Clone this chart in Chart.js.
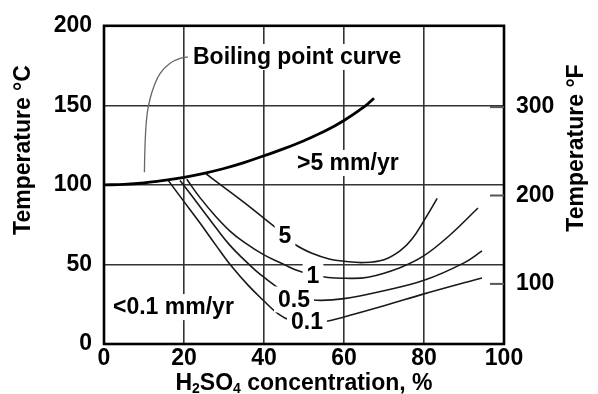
<!DOCTYPE html>
<html><head><meta charset="utf-8">
<script src="https://cdn.jsdelivr.net/npm/chart.js@4"></script>
<style>html,body{margin:0;padding:0;background:#fff}#wrap{width:598px;height:394px}</style>
</head><body><div id="wrap"><canvas id="c" width="598" height="394"></canvas></div>
<script>
// ---- tick labels ----
const concTicks = [0, 20, 40, 60, 80, 100];
const tempCTicks = [0, 50, 100, 150, 200];
const tempFTicks = [100, 200, 300];

// ---- series (x = H2SO4 %, y = °C) ----
const boilX = [0, 5, 10, 15, 20, 25, 30, 35, 40, 45, 50, 55, 60, 65, 67.5];
const boilY = [100, 100.3, 101.2, 102.8, 104.8, 107.3, 110.3, 114, 118.3, 122.8, 127.8, 133.5, 140.5, 149, 154.5];

const r5X = [25.5, 30, 35, 40, 43, 47.5, 52, 56.5, 60, 65, 70, 74, 77, 80, 83.3];
const r5Y = [107, 98.5, 89, 79, 73, 63, 57, 53.3, 52, 51.2, 53, 58.5, 66, 77.5, 91.5];

const r1X = [20.7, 24, 28, 31.5, 35, 40, 45, 48, 52, 56, 60, 66, 74, 80, 86.5, 93.5];
const r1Y = [103.5, 92, 80, 71, 64, 56, 50, 46.5, 43.5, 41.8, 41.3, 42, 48, 55.5, 68.5, 85.5];

const r05X = [19, 22, 25, 28, 31.5, 35, 38, 41, 44, 48, 53, 60, 70, 80, 90, 94.5];
const r05Y = [102.8, 93, 83, 73, 62, 53, 46, 40, 34.5, 30, 27.5, 28.5, 33.5, 40, 51, 58.5];

const r01X = [16, 20, 24, 28, 32, 36, 40, 43, 46, 50, 55, 60, 70, 80, 90, 94.5];
const r01Y = [103, 89.5, 76, 62, 48.5, 37, 27, 20, 15.5, 13.5, 14, 17, 24, 31.5, 38.5, 41.5];

const leaderX = [10.1, 10.2, 10.4, 10.8, 11.5, 12.5, 14, 16.5, 19, 21];
const leaderY = [108, 120, 133, 145, 154, 162, 170, 176.5, 179.5, 180.5];

// ---- annotation texts (anchored in data units) ----
const noteTexts = ["Boiling point curve", ">5 mm/yr", "<0.1 mm/yr", "5", "1", "0.5", "0.1"];
const noteX = [22.25, 48.25, 2.25, 45.25, 52.25, 47.5, 50.75];
const noteY = [180.4, 113.8, 23.2, 67.8, 43, 28, 14];
const noteAlign = ["left", "left", "left", "center", "center", "center", "center"];

const toPts = (xs, ys) => xs.map((v, i) => ({x: v, y: ys[i]}));
const FAMILY = '"Liberation Sans", Arial, Helvetica, sans-serif';
const FONT = 'bold 23px ' + FAMILY;
const fontObj = {family: FAMILY, size: 23, weight: 'bold'};

const cToF = c => c * 1.8 + 32;

const annot = {
  id: 'annot',
  afterDatasetsDraw(chart) {
    const {ctx, chartArea: a, scales} = chart;
    const xs = scales.x, ys = scales.y, yF = scales.yF;
    ctx.save();
    ctx.font = FONT;
    ctx.textBaseline = 'middle';
    noteTexts.forEach((t, i) => {
      const px = xs.getPixelForValue(noteX[i]);
      const py = ys.getPixelForValue(noteY[i]);
      const w = ctx.measureText(t).width;
      const left = noteAlign[i] === 'left' ? px : px - w / 2;
      ctx.fillStyle = '#fff';
      ctx.fillRect(left - 4, py - 13, w + 8, 26);
      ctx.fillStyle = '#000';
      ctx.textAlign = 'left';
      ctx.fillText(t, left, py + 1);
    });
    // frame
    ctx.strokeStyle = '#000';
    ctx.lineWidth = 2.6;
    ctx.strokeRect(a.left, a.top, a.right - a.left, a.bottom - a.top);
    // inward °F ticks
    ctx.strokeStyle = '#555';
    ctx.lineWidth = 2;
    tempFTicks.forEach(v => {
      const py = yF.getPixelForValue(v);
      ctx.beginPath();
      ctx.moveTo(a.right - 14, py);
      ctx.lineTo(a.right, py);
      ctx.stroke();
    });
    ctx.restore();
  },
  afterDraw(chart) {
    const {ctx, chartArea: a} = chart;
    ctx.save();
    ctx.font = FONT;
    ctx.fillStyle = '#000';
    ctx.textAlign = 'center';
    ctx.textBaseline = 'middle';
    ctx.save();
    ctx.translate(24, 150);
    ctx.rotate(-Math.PI / 2);
    ctx.fillText('Temperature °C', 0, 0);
    ctx.restore();
    ctx.save();
    ctx.translate(577, 148);
    ctx.rotate(-Math.PI / 2);
    ctx.fillText('Temperature °F', 0, 0);
    ctx.restore();
    const parts = [['H', 0], ['2', 1], ['SO', 0], ['4', 1], [' concentration, %', 0]];
    const SUBFONT = 'bold 14px ' + FAMILY;
    let total = 0;
    parts.forEach(p => { ctx.font = p[1] ? SUBFONT : FONT; total += ctx.measureText(p[0]).width; });
    let cx = (a.left + a.right) / 2 - total / 2;
    const by = 390;
    ctx.textAlign = 'left';
    ctx.textBaseline = 'alphabetic';
    parts.forEach(p => {
      ctx.font = p[1] ? SUBFONT : FONT;
      ctx.fillText(p[0], cx, p[1] ? by + 3 : by);
      cx += ctx.measureText(p[0]).width;
    });
    ctx.restore();
  }
};

const lineDs = (pts, w, color) => ({
  data: pts, borderColor: color, borderWidth: w, pointRadius: 0,
  tension: 0.4, fill: false
});

new Chart(document.getElementById('c'), {
  type: 'line',
  data: {
    datasets: [
      lineDs(toPts(boilX, boilY), 2.8, '#000'),
      lineDs(toPts(r5X, r5Y), 1.6, '#1a1a1a'),
      lineDs(toPts(r1X, r1Y), 1.6, '#1a1a1a'),
      lineDs(toPts(r05X, r05Y), 1.6, '#1a1a1a'),
      lineDs(toPts(r01X, r01Y), 1.6, '#1a1a1a'),
      lineDs(toPts(leaderX, leaderY), 1.3, '#666')
    ]
  },
  options: {
    responsive: false,
    animation: false,
    events: [],
    layout: {autoPadding: false, padding: {top: 22, left: 0, right: 0, bottom: 0}},
    plugins: {legend: {display: false}, tooltip: {enabled: false}},
    scales: {
      x: {
        type: 'linear', min: 0, max: 100,
        afterBuildTicks: s => { s.ticks = concTicks.map(v => ({value: v})); },
        ticks: {font: fontObj, color: '#000', padding: 1, maxRotation: 0},
        grid: {color: '#333', lineWidth: 1.6, drawTicks: false},
        border: {display: false},
        afterFit: s => { s.height = 50; }
      },
      y: {
        type: 'linear', min: 0, max: 200, position: 'left',
        afterBuildTicks: s => { s.ticks = tempCTicks.map(v => ({value: v})); },
        ticks: {font: fontObj, color: '#000', padding: 12},
        grid: {color: '#333', lineWidth: 1.6, drawTicks: false},
        border: {display: false},
        afterFit: s => { s.width = 104; }
      },
      yF: {
        type: 'linear', min: cToF(0), max: cToF(200), position: 'right',
        afterBuildTicks: s => { s.ticks = tempFTicks.map(v => ({value: v})); },
        ticks: {font: fontObj, color: '#000', padding: 12},
        grid: {drawOnChartArea: false, drawTicks: false},
        border: {display: false},
        afterFit: s => { s.width = 94; }
      }
    }
  },
  plugins: [annot]
});
</script>
</body></html>
